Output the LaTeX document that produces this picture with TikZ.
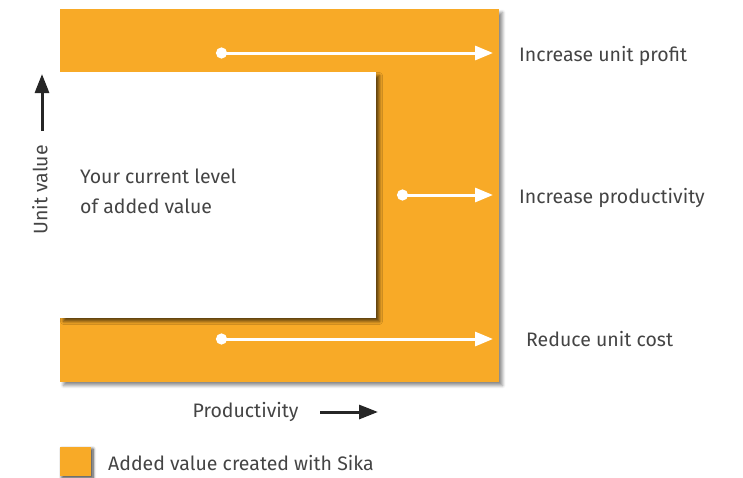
\documentclass[tikz,border=0pt]{standalone}
\usepackage{fontspec}
\setmainfont{Fira Sans}
\usetikzlibrary{arrows.meta,shadows.blur}
\definecolor{sikaorange}{HTML}{F8AA27}
\definecolor{txtgray}{HTML}{444444}
\tikzset{
  panel/.style={fill=sikaorange, draw=none, blur shadow={shadow xshift=3.5pt, shadow yshift=-3.5pt, shadow blur steps=6, shadow blur radius=3pt, shadow opacity=45}},
  current/.style={fill=white, draw=none, blur shadow={shadow xshift=3.5pt, shadow yshift=-3.5pt, shadow blur steps=6, shadow blur radius=3pt, shadow opacity=60}},
  warrow/.style={draw=white, line width=3pt, {Circle[length=11pt]}-{Triangle[length=18pt,width=14pt]}},
  barrow/.style={draw=black!85, line width=3pt, -{Triangle[length=19pt,width=14pt]}},
  lbl/.style={text=txtgray, font=\fontsize{19.5}{30}\selectfont, inner sep=0pt},
}
\begin{document}
\begin{tikzpicture}[x=1pt,y=-1pt]
\useasboundingbox (0,0) rectangle (743,477);
% panels
\path[panel] (60,9) rectangle (499,382);
\path[current] (60,72) rectangle (376,318);
% arrow coordinates
\coordinate (a1s) at (216,53);
\coordinate (a1e) at (493,53);
\coordinate (a2s) at (397,195);
\coordinate (a2e) at (493,195);
\coordinate (a3s) at (216,339);
\coordinate (a3e) at (493,339);
\draw[warrow] (a1s) -- (a1e);
\draw[warrow] (a2s) -- (a2e);
\draw[warrow] (a3s) -- (a3e);
% labels
\node[lbl, anchor=base west] (l1) at (519,61) {Increase unit profit};
\node[lbl, anchor=base west] (l2) at (519,203) {Increase productivity};
\node[lbl, anchor=base west] (l3) at (526,346) {Reduce unit cost};
\node[lbl, anchor=base west] (cur1) at (80,183) {Your current level};
\node[lbl, anchor=base west] (cur2) at (80,213) {of added value};
% axes
\node[lbl, rotate=90] (uv) at (40,190) {Unit value};
\coordinate (uvs) at (42,131);
\coordinate (uve) at (42,74);
\draw[barrow] (uvs) -- (uve);
\node[lbl, anchor=base] (pr) at (245.5,417) {Productivity};
\coordinate (prs) at (320,412);
\coordinate (pre) at (378,412);
\draw[barrow] (prs) -- (pre);
% legend
\path[panel, blur shadow={shadow xshift=2pt, shadow yshift=-2pt}] (60,447) rectangle (91,476);
\node[lbl, anchor=base west] (leg) at (108,470) {Added value created with Sika};
\end{tikzpicture}
\end{document}
